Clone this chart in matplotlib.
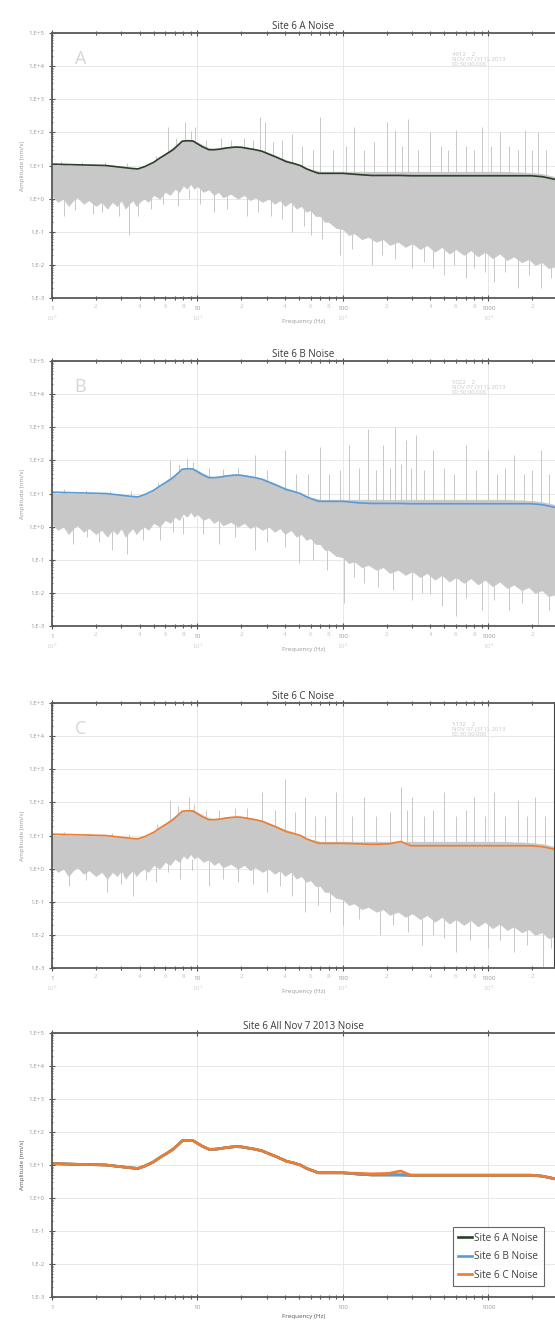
import numpy as np
import matplotlib.pyplot as plt
from matplotlib.ticker import LogLocator, FuncFormatter, NullFormatter

plt.rcParams['font.family'] = ['Open Sans', 'DejaVu Sans']

# smoothed amplitude spectra (Hz, nm/s)
curve_freq = [1, 1.5, 2.35, 3.1, 3.6, 3.9, 4.35, 5.0, 5.5, 6.2, 6.8, 7.4, 7.85, 8.5, 9.3, 9.8,
              10.8, 12, 13, 14.1, 16, 18.2, 20, 22, 25, 27.8, 31, 34.8, 41, 46, 51, 56, 61, 68,
              100, 130, 158, 208, 250, 294, 367, 1000, 1970, 2350, 2600, 2880]
amp_a = [11, 10.5, 10, 8.7, 8.1, 7.9, 9.3, 12.5, 16.7, 23, 30, 42, 54, 56, 55, 48,
         37, 30, 30, 31, 34, 36, 35.5, 33, 30, 27, 22, 18, 13, 11.5, 10, 8, 6.9, 5.8,
         5.8, 5.3, 5.0, 5.0, 5.0, 4.9, 4.9, 4.9, 4.9, 4.6, 4.2, 3.8]
amp_b = [11, 10.5, 10, 8.7, 8.1, 7.9, 9.3, 12.5, 16.7, 23, 30, 42, 54, 56, 55, 48,
         37, 30, 30, 31, 34, 36, 35.5, 33, 30, 27, 22, 18, 13, 11.5, 10, 8, 6.9, 5.8,
         5.8, 5.2, 5.0, 5.0, 5.0, 4.9, 4.9, 4.9, 4.9, 4.6, 4.2, 3.8]
amp_c = [11, 10.5, 10, 8.7, 8.1, 7.9, 9.3, 12.5, 16.7, 23, 30, 42, 54, 56, 55, 48,
         37, 30, 30, 31, 34, 36, 35.5, 33, 30, 27, 22, 18, 13, 11.5, 10, 8, 6.9, 5.8,
         5.8, 5.6, 5.4, 5.6, 6.6, 4.9, 4.9, 4.9, 4.9, 4.6, 4.2, 3.8]

# raw spectrum envelope (upper / lower edge of the grey trace)
band_freq = [1, 1.1, 1.2, 1.3, 1.4, 1.5, 1.65, 1.8, 2, 2.2, 2.4, 2.6, 2.8, 3, 3.2, 3.4, 3.6,
             3.8, 4, 4.3, 4.6, 5, 5.5, 6, 6.5, 7, 7.5, 8, 8.5, 9, 9.5, 10, 11, 12, 13, 14,
             15, 17, 19, 21, 23, 25, 28, 31, 34, 37, 40, 44, 48, 52, 56, 60, 65, 70, 75,
             80, 90, 100, 110, 120, 135, 150, 170, 190, 210, 240, 270, 300, 340, 380, 430,
             480, 540, 600, 680, 760, 850, 950, 1070, 1200, 1350, 1500, 1700, 1900, 2100,
             2350, 2600, 2880]
band_top = [10.5, 10, 10.5, 10, 10, 10, 9.8, 10, 9.5, 9.8, 9.5, 9.5, 9, 9, 8.8, 8.5, 8.5,
            8, 8, 9, 10, 13, 17, 23, 30, 38, 48, 56, 60, 60, 56, 50, 40, 33, 32, 33,
            35, 37, 38, 36, 34, 31, 28, 24, 20, 17, 15, 13, 11, 10, 8.5, 7.5, 7, 6.5, 6.5,
            6.5, 6.5, 6.5, 6.5, 6.5, 6.5, 6.5, 6.5, 6.5, 6.5, 6.5, 6.5, 6.5, 6.5, 6.5, 6.5,
            6.5, 6.5, 6.5, 6.5, 6.5, 6.5, 6.5, 6.5, 6.5, 6.5, 6.2, 6.2, 6, 5.8,
            5.5, 5, 4.5]
band_bot = [1.2, 0.8, 1.0, 0.6, 0.9, 1.1, 0.7, 0.9, 0.6, 0.8, 0.5, 0.8, 0.6, 0.9, 0.5, 0.7, 0.9,
            0.6, 0.8, 1.0, 0.8, 1.3, 1.0, 1.6, 1.3, 2.0, 1.6, 2.5, 2.0, 2.8, 2.0, 2.4, 1.6, 1.9, 1.3, 1.6,
            1.1, 1.4, 1.0, 1.3, 0.9, 1.1, 0.8, 1.0, 0.7, 0.9, 0.6, 0.8, 0.5, 0.6, 0.4, 0.45, 0.3, 0.3, 0.2,
            0.2, 0.13, 0.12, 0.08, 0.09, 0.06, 0.07, 0.05, 0.06, 0.04, 0.05, 0.035, 0.045, 0.03, 0.04, 0.025,
            0.035, 0.022, 0.03, 0.02, 0.028, 0.018, 0.025, 0.016, 0.022, 0.014, 0.018, 0.012, 0.015, 0.01,
            0.012, 0.008, 0.009]

# spikes of the raw trace: (freq, amplitude)
spikes_up = {
    'A': [(1.15, 14), (1.6, 13), (2.3, 13), (3.3, 12), (5.2, 20), (6.3, 150), (7.1, 70),
          (8.2, 200), (9.0, 110), (9.6, 150), (11.5, 60), (14.5, 70), (17, 60), (21, 70),
          (24, 60), (27, 300), (29, 200), (33, 50), (38, 60), (45, 90), (52, 40), (62, 30),
          (70, 300), (85, 30), (105, 40), (120, 150), (140, 30), (165, 50), (200, 200),
          (230, 120), (255, 40), (280, 250), (330, 30), (400, 100), (470, 40), (530, 30),
          (600, 120), (700, 40), (800, 30), (900, 150), (1050, 40), (1200, 100), (1400, 40),
          (1600, 30), (1800, 120), (2000, 30), (2200, 100), (2500, 30)],
    'B': [(1.2, 14), (1.7, 13), (2.5, 12), (3.5, 12), (5.4, 22), (6.5, 100), (7.5, 80),
          (8.5, 120), (9.3, 90), (12, 60), (15, 55), (19, 60), (25, 150), (30, 50), (40, 200),
          (48, 40), (58, 40), (70, 250), (80, 40), (95, 50), (110, 300), (130, 60), (150, 900),
          (170, 50), (190, 300), (210, 60), (230, 1000), (250, 80), (270, 400), (295, 60),
          (320, 600), (360, 50), (420, 200), (500, 60), (580, 40), (700, 300), (820, 50),
          (1000, 200), (1150, 40), (1300, 60), (1500, 150), (1750, 40), (2000, 50),
          (2300, 200), (2600, 40)],
    'C': [(1.2, 13), (1.8, 12), (2.6, 12), (3.4, 11), (5.3, 22), (6.5, 120), (7.4, 80),
          (8.8, 150), (9.5, 90), (11.5, 60), (14, 60), (18, 70), (22, 70), (28, 200), (34, 60),
          (40, 500), (47, 50), (55, 150), (64, 40), (75, 40), (90, 200), (115, 40), (140, 150),
          (170, 40), (210, 50), (250, 300), (275, 60), (300, 150), (360, 40), (420, 60),
          (500, 200), (600, 40), (700, 60), (800, 150), (950, 40), (1100, 200), (1300, 40),
          (1600, 120), (1850, 40), (2100, 150), (2450, 40)],
}
spikes_down = {
    'A': [(1.2, 0.3), (1.45, 0.45), (1.9, 0.35), (2.2, 0.4), (2.9, 0.3), (3.4, 0.08), (3.9, 0.3),
          (4.8, 0.5), (5.8, 0.7), (7.3, 0.6), (8.8, 1.0), (10.5, 0.7), (13, 0.4), (16, 0.5),
          (22, 0.3), (26, 0.4), (32, 0.3), (38, 0.25), (45, 0.1), (54, 0.15), (60, 0.08),
          (72, 0.06), (95, 0.02), (115, 0.03), (160, 0.01), (185, 0.02), (230, 0.015),
          (300, 0.008), (360, 0.012), (420, 0.008), (500, 0.005), (580, 0.01), (700, 0.004),
          (800, 0.008), (950, 0.006), (1100, 0.003), (1300, 0.006), (1600, 0.002),
          (1900, 0.005), (2300, 0.002), (2700, 0.004)],
    'B': [(1.4, 0.3), (1.75, 0.5), (2.1, 0.35), (2.6, 0.2), (3.3, 0.15), (4.2, 0.4), (5.5, 0.4),
          (6.8, 0.7), (8, 0.6), (11, 0.6), (14, 0.3), (18, 0.5), (25, 0.2), (30, 0.35),
          (40, 0.25), (50, 0.08), (62, 0.1), (78, 0.05), (102, 0.005), (120, 0.03),
          (140, 0.02), (175, 0.015), (220, 0.012), (300, 0.006), (350, 0.01), (400, 0.009),
          (480, 0.004), (600, 0.002), (700, 0.007), (900, 0.003), (1100, 0.006),
          (1400, 0.003), (1700, 0.005), (2200, 0.001), (2600, 0.003)],
    'C': [(1.3, 0.3), (1.7, 0.45), (2.4, 0.2), (3.0, 0.35), (3.6, 0.15), (4.4, 0.45), (5.2, 0.4),
          (6.3, 0.8), (7.6, 0.5), (9.2, 0.9), (12, 0.3), (15, 0.5), (19, 0.4), (24, 0.35),
          (30, 0.2), (37, 0.3), (45, 0.15), (55, 0.05), (68, 0.08), (82, 0.05), (100, 0.02),
          (130, 0.03), (180, 0.01), (220, 0.02), (280, 0.012), (350, 0.005), (420, 0.01),
          (500, 0.008), (600, 0.003), (750, 0.007), (1000, 0.004), (1200, 0.007),
          (1500, 0.003), (1850, 0.005), (2400, 0.001), (2700, 0.004)],
}

panels = ['A', 'B', 'C']
titles = ['Site 6 A Noise', 'Site 6 B Noise', 'Site 6 C Noise', 'Site 6 All Nov 7 2013 Noise']
stamps = ['4912    2\nNOV 07 (311), 2013\n00:30:00.000',
          '5022    2\nNOV 07 (311), 2013\n00:30:00.000',
          '5132    2\nNOV 07 (311), 2013\n00:30:00.000']
curves = {'A': amp_a, 'B': amp_b, 'C': amp_c}
colors = {'A': '#2b3f2b', 'B': '#5b9bd5', 'C': '#ed7d31'}
labels = {'A': 'Site 6 A Noise', 'B': 'Site 6 B Noise', 'C': 'Site 6 C Noise'}
ytick_labels = ['1.E-3', '1.E-2', '1.E-1', '1.E+0', '1.E+1', '1.E+2', '1.E+3', '1.E+4', '1.E+5']

W, H = 555, 1329
fig = plt.figure(figsize=(W / 100, H / 100), dpi=100)
# (top, bottom) of each plot area in pixels
boxes = [(33, 298), (361, 626), (703, 968), (1033, 1297)]
left_px = 52
grey = '#c8c8c8'


def minor_fmt(x, pos):
    d = int(round(x / 10 ** np.floor(np.log10(x) + 1e-9)))
    return str(d) if d in (2, 4, 6, 8) else ''


def setup_axes(ax, detailed):
    ax.set_xscale('log')
    ax.set_yscale('log')
    ax.set_xlim(1, 2880)
    ax.set_ylim(1e-3, 1e5)
    ax.set_yticks([10.0 ** k for k in range(-3, 6)])
    ax.set_yticklabels(ytick_labels)
    ax.yaxis.set_minor_locator(LogLocator(base=10, subs=np.arange(2, 10) * 1.0, numticks=20))
    ax.yaxis.set_minor_formatter(NullFormatter())
    ax.set_xticks([1, 10, 100, 1000])
    ax.set_xticklabels(['1', '10', '100', '1000'])
    ax.xaxis.set_minor_locator(LogLocator(base=10, subs=np.arange(2, 10) * 1.0, numticks=20))
    if detailed:
        ax.xaxis.set_minor_formatter(FuncFormatter(minor_fmt))
    else:
        ax.xaxis.set_minor_formatter(NullFormatter())
    ax.tick_params(axis='both', which='both', labelsize=4.5, labelcolor='#9a9a9a',
                   color='#555555', direction='inout')
    ax.tick_params(axis='x', which='major', length=4, width=0.8, top=True)
    ax.tick_params(axis='x', which='minor', length=2.5, width=0.8, top=detailed,
                   labelcolor='#c4c4c4')
    ax.tick_params(axis='y', which='major', length=4, width=0.8)
    ax.tick_params(axis='y', which='minor', length=2, width=0.6)
    ax.grid(True, which='major', color='#e8e8e8', linewidth=0.7)
    ax.set_axisbelow(True)
    for side in ('left', 'bottom', 'top'):
        ax.spines[side].set_color('#595959')
        ax.spines[side].set_linewidth(1.3)
    ax.spines['right'].set_visible(False)


for i in range(4):
    top, bot = boxes[i]
    ax = fig.add_axes([left_px / W, 1 - bot / H, (W - left_px) / W, (bot - top) / H])
    detailed = i < 3
    setup_axes(ax, detailed)
    ax.set_title(titles[i], fontsize=7, color='#3a3a3a', pad=3)

    if detailed:
        key = panels[i]
        ax.fill_between(band_freq, band_bot, band_top, color=grey, linewidth=0.5,
                        edgecolor=grey)
        for f, a in spikes_up[key]:
            ax.vlines(f, 3, a, color=grey, linewidth=0.7)
        for f, a in spikes_down[key]:
            ax.vlines(f, a, 2, color=grey, linewidth=0.7)
        ax.plot(curve_freq, curves[key], color=colors[key], linewidth=1.2)
        ax.text(0.045, 0.935, key, transform=ax.transAxes, fontsize=13,
                color='#d6d6d6', va='top', ha='left')
        ax.text(0.795, 0.93, stamps[i], transform=ax.transAxes, fontsize=4.3,
                color='#c8c8c8', va='top', ha='left', linespacing=1.1)
        for k, f in enumerate([1, 10, 100, 1000]):
            ax.text(f, -0.06, r'$10^{%d}$' % k, transform=ax.get_xaxis_transform(),
                    fontsize=4, color='#d0d0d0', ha='center', va='top')
        ax.set_xlabel('Frequency (Hz)', fontsize=4.5, color='#9a9a9a', labelpad=6)
        ax.set_ylabel('Amplitude (nm/s)', fontsize=4.5, color='#9a9a9a', labelpad=2)
        if i == 2:
            ax.spines['right'].set_visible(True)
            ax.spines['right'].set_color('#404040')
            ax.spines['right'].set_linewidth(1.5)
    else:
        for key in panels:
            ax.plot(curve_freq, curves[key], color=colors[key], linewidth=1.9,
                    label=labels[key])
        ax.set_xlabel('Frequency (Hz)', fontsize=4.5, color='#555555', labelpad=3)
        ax.set_ylabel('Amplitude (nm/s)', fontsize=4.5, color='#555555', labelpad=2)
        leg = ax.legend(loc='lower right', bbox_to_anchor=(0.978, 0.04), fontsize=7.2,
                        frameon=True, fancybox=False, handlelength=1.4, handletextpad=0.2,
                        borderpad=0.55, labelspacing=0.75, borderaxespad=0)
        for t in leg.get_texts():
            t.set_color('#404040')
        leg.get_frame().set_edgecolor('#404040')
        leg.get_frame().set_linewidth(0.8)

fig.savefig('out.png', dpi=100)
